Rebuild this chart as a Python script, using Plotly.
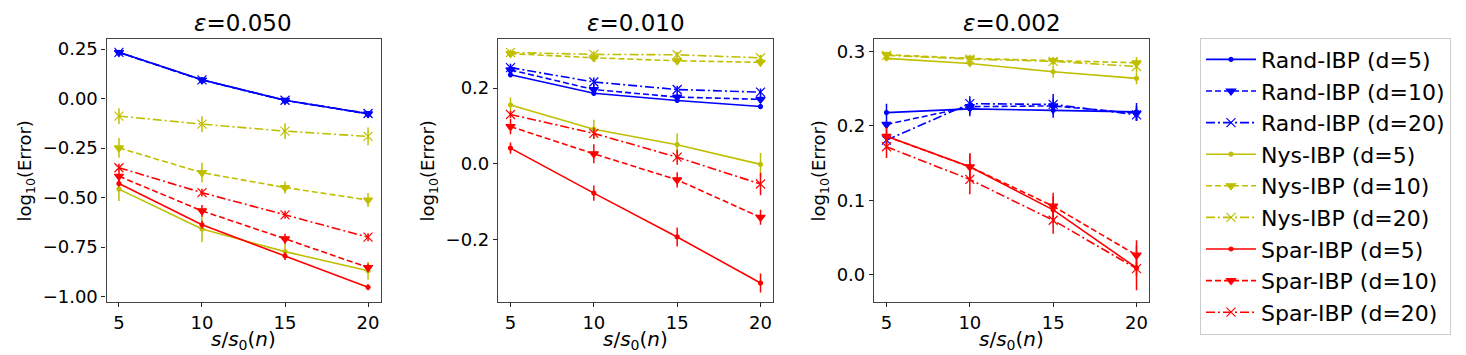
import plotly.graph_objects as go

W, H = 1466, 355

s_ratio = [5, 10, 15, 20]
eps_titles = ["0.050", "0.010", "0.002"]
methods = ["Rand-IBP", "Nys-IBP", "Spar-IBP"]
dims = [5, 10, 20]

# log10(Error), one list per (method, d) for each epsilon panel
eps050 = {
    ("Rand-IBP", 5): [0.234, 0.095, -0.008, -0.076],
    ("Rand-IBP", 10): [0.233, 0.094, -0.009, -0.077],
    ("Rand-IBP", 20): [0.234, 0.095, -0.008, -0.075],
    ("Nys-IBP", 5): [-0.457, -0.659, -0.773, -0.870],
    ("Nys-IBP", 10): [-0.249, -0.374, -0.449, -0.512],
    ("Nys-IBP", 20): [-0.088, -0.129, -0.164, -0.191],
    ("Spar-IBP", 5): [-0.429, -0.637, -0.795, -0.953],
    ("Spar-IBP", 10): [-0.392, -0.567, -0.708, -0.853],
    ("Spar-IBP", 20): [-0.349, -0.475, -0.587, -0.700],
}
eps010 = {
    ("Rand-IBP", 5): [0.235, 0.186, 0.167, 0.151],
    ("Rand-IBP", 10): [0.248, 0.196, 0.176, 0.170],
    ("Rand-IBP", 20): [0.254, 0.216, 0.196, 0.189],
    ("Nys-IBP", 5): [0.155, 0.091, 0.050, -0.002],
    ("Nys-IBP", 10): [0.291, 0.280, 0.272, 0.268],
    ("Nys-IBP", 20): [0.294, 0.289, 0.288, 0.280],
    ("Spar-IBP", 5): [0.041, -0.078, -0.194, -0.316],
    ("Spar-IBP", 10): [0.098, 0.026, -0.043, -0.142],
    ("Spar-IBP", 20): [0.130, 0.080, 0.017, -0.054],
}
eps002 = {
    ("Rand-IBP", 5): [0.218, 0.223, 0.221, 0.219],
    ("Rand-IBP", 10): [0.202, 0.226, 0.227, 0.217],
    ("Rand-IBP", 20): [0.181, 0.230, 0.229, 0.215],
    ("Nys-IBP", 5): [0.291, 0.284, 0.273, 0.264],
    ("Nys-IBP", 10): [0.296, 0.291, 0.288, 0.285],
    ("Nys-IBP", 20): [0.295, 0.290, 0.287, 0.280],
    ("Spar-IBP", 5): [0.186, 0.145, 0.087, 0.009],
    ("Spar-IBP", 10): [0.186, 0.145, 0.092, 0.026],
    ("Spar-IBP", 20): [0.172, 0.128, 0.073, 0.008],
}

# error bar half-widths
err050 = {
    ("Rand-IBP", 5): [0.01, 0.01, 0.01, 0.01],
    ("Rand-IBP", 10): [0.01, 0.01, 0.01, 0.01],
    ("Rand-IBP", 20): [0.01, 0.01, 0.01, 0.01],
    ("Nys-IBP", 5): [0.06, 0.065, 0.04, 0.045],
    ("Nys-IBP", 10): [0.05, 0.05, 0.03, 0.035],
    ("Nys-IBP", 20): [0.04, 0.04, 0.04, 0.045],
    ("Spar-IBP", 5): [0.015, 0.02, 0.02, 0.015],
    ("Spar-IBP", 10): [0.025, 0.03, 0.025, 0.02],
    ("Spar-IBP", 20): [0.02, 0.02, 0.02, 0.02],
}
err010 = {
    ("Rand-IBP", 5): [0.006, 0.006, 0.006, 0.006],
    ("Rand-IBP", 10): [0.01, 0.012, 0.012, 0.01],
    ("Rand-IBP", 20): [0.01, 0.012, 0.01, 0.01],
    ("Nys-IBP", 5): [0.02, 0.025, 0.03, 0.03],
    ("Nys-IBP", 10): [0.008, 0.01, 0.01, 0.01],
    ("Nys-IBP", 20): [0.008, 0.008, 0.008, 0.008],
    ("Spar-IBP", 5): [0.015, 0.02, 0.025, 0.025],
    ("Spar-IBP", 10): [0.02, 0.025, 0.02, 0.02],
    ("Spar-IBP", 20): [0.01, 0.015, 0.02, 0.03],
}
err002 = {
    ("Rand-IBP", 5): [0.012, 0.01, 0.01, 0.012],
    ("Rand-IBP", 10): [0.005, 0.01, 0.01, 0.01],
    ("Rand-IBP", 20): [0.005, 0.01, 0.014, 0.008],
    ("Nys-IBP", 5): [0.004, 0.005, 0.008, 0.008],
    ("Nys-IBP", 10): [0.004, 0.005, 0.005, 0.008],
    ("Nys-IBP", 20): [0.004, 0.005, 0.005, 0.008],
    ("Spar-IBP", 5): [0.012, 0.018, 0.018, 0.03],
    ("Spar-IBP", 10): [0.01, 0.018, 0.018, 0.02],
    ("Spar-IBP", 20): [0.015, 0.02, 0.018, 0.01],
}

panels = [eps050, eps010, eps002]
errors = [err050, err010, err002]
y_ranges = [[-1.029, 0.300], [-0.367, 0.329], [-0.0374, 0.3167]]
y_ticks = [
    [-1.0, -0.75, -0.5, -0.25, 0.0, 0.25],
    [-0.2, 0.0, 0.2],
    [0.0, 0.1, 0.2, 0.3],
]
y_ticktext = [
    ["\u22121.00", "\u22120.75", "\u22120.50", "\u22120.25", "0.00", "0.25"],
    ["\u22120.2", "0.0", "0.2"],
    ["0.0", "0.1", "0.2", "0.3"],
]

COLORS = {"Rand-IBP": "#0000ff", "Nys-IBP": "#bfbf00", "Spar-IBP": "#ff0000"}
DASH = {5: "solid", 10: "6px,3px", 20: "9px,3px,2px,3px"}
SYMBOL = {5: "circle", 10: "triangle-down", 20: "x-thin"}
MSIZE = {5: 4, 10: 8, 20: 9}

FONT = "DejaVu Sans"

# pixel boxes of the three axes
x_boxes = [(98.5, 372.5), (490, 765), (866, 1141)]
y_box = (1 - 297.5 / H, 1 - 30.7 / H)

fig = go.Figure()
for p, (data, err) in enumerate(zip(panels, errors)):
    ax = "" if p == 0 else str(p + 1)
    for m in methods:
        for d in dims:
            fig.add_trace(go.Scatter(
                x=s_ratio,
                y=data[(m, d)],
                error_y=dict(type="data", array=err[(m, d)], color=COLORS[m],
                             thickness=1.5, width=0),
                mode="lines+markers",
                name=f"{m} (d={d})",
                legendgroup=f"{m}{d}",
                showlegend=(p == 0),
                line=dict(color=COLORS[m], width=1.6, dash=DASH[d]),
                marker=dict(symbol=SYMBOL[d], size=MSIZE[d], color=COLORS[m],
                            line=dict(color=COLORS[m], width=1.2)),
                xaxis="x" + ax,
                yaxis="y" + ax,
            ))

axis_common = dict(
    showline=True, linecolor="#444444", linewidth=1.2, mirror=True,
    ticks="outside", ticklen=4, tickcolor="#222222", tickwidth=1,
    showgrid=False, zeroline=False,
    tickfont=dict(family=FONT, size=18, color="black"),
)

layout = dict(
    width=W, height=H,
    margin=dict(l=0, r=0, t=0, b=0),
    paper_bgcolor="white", plot_bgcolor="white",
    font=dict(family=FONT, color="black"),
    legend=dict(
        x=1192 / W, y=1 - 29 / H, xanchor="left", yanchor="top",
        bordercolor="#cccccc", borderwidth=1,
        font=dict(family=FONT, size=22, color="black"),
        itemwidth=50, tracegroupgap=0,
    ),
    annotations=[],
)

for p in range(3):
    ax = "" if p == 0 else str(p + 1)
    x0, x1 = x_boxes[p]
    xc = (x0 + x1) / 2 / W
    layout["xaxis" + ax] = dict(
        axis_common,
        domain=[x0 / W, x1 / W],
        range=[4.25, 20.75],
        tickvals=s_ratio,
        anchor="y" + ax,
    )
    layout["yaxis" + ax] = dict(
        axis_common,
        domain=list(y_box),
        range=y_ranges[p],
        tickvals=y_ticks[p],
        ticktext=y_ticktext[p],
        anchor="x" + ax,
        title=dict(text="log<sub>10</sub>(Error)",
                   font=dict(family=FONT, size=18), standoff=6),
    )
    layout["annotations"].append(dict(
        text=f"<i>\u03b5</i>={eps_titles[p]}",
        x=xc, y=y_box[1], xref="paper", yref="paper",
        xanchor="center", yanchor="bottom", yshift=1, showarrow=False,
        font=dict(family=FONT, size=23, color="black"),
    ))
    layout["annotations"].append(dict(
        text="<i>s</i>/<i>s</i><sub>0</sub>(<i>n</i>)",
        x=xc, y=1 - 336 / H, xref="paper", yref="paper",
        xanchor="center", yanchor="middle", showarrow=False,
        font=dict(family=FONT, size=20, color="black"),
    ))

fig.update_layout(**layout)
fig.write_html("out.html")
